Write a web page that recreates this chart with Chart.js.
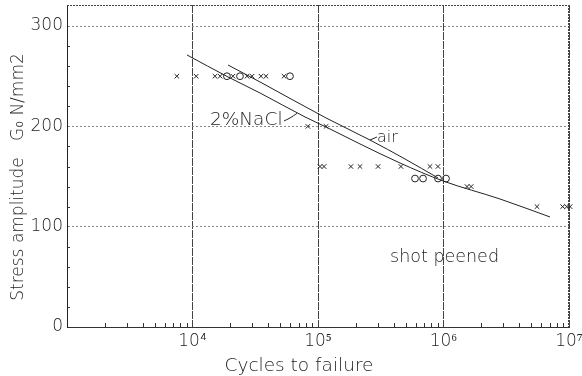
<!DOCTYPE html>
<html><head><meta charset="utf-8">
<script src="https://cdn.jsdelivr.net/npm/chart.js@4/dist/chart.umd.min.js"></script>
<style>html,body{margin:0;padding:0;background:#fff}#wrap{width:582px;height:376px}</style>
</head><body><div id="wrap"><canvas id="c" width="582" height="376"></canvas></div>
<script>
// ---- data ----
const xTickValues = [1e4, 1e5, 1e6, 1e7];
const xTickLabels = ['10⁴', '10⁵', '10⁶', '10⁷'];
const yTickValues = [0, 100, 200, 300];

const crossCycles = [7500, 10700, 15100, 16600, 21000, 27200, 29800, 35100, 38500, 53600,
                     83000, 116000,
                     103800, 111700, 183000, 216000, 301000, 458000, 780000, 903000,
                     1540000, 1660000,
                     5560000, 8900000, 9600000, 10200000];
const crossStress = [250, 250, 250, 250, 250, 250, 250, 250, 250, 250,
                     200, 200,
                     160, 160, 160, 160, 160, 160, 160, 160,
                     140, 140,
                     120, 120, 120, 120];

const circleCycles = [18800, 23900, 59800, 593000, 687000, 904000, 1047000];
const circleStress = [250, 250, 250, 148, 148, 148, 148];

const naclCycles = [9040, 19180, 34500, 78780, 115800, 216100, 450100, 990800, 2820000, 7060000];
const naclStress = [271.2, 249.3, 233.3, 209.4, 199.4, 182.5, 163.5, 145.6, 127.6, 109.7];

const airCycles = [19180, 34500, 115800, 259600, 493400, 904000];
const airStress = [261.2, 244.3, 208.4, 186.4, 167.5, 148.6];

const naclLeaderCycles = [53600, 59800, 68000];
const naclLeaderStress = [205.4, 208.4, 212.9];
const airLeaderCycles = [259600, 295000];
const airLeaderStress = [186.4, 189.4];

const labelTexts = ['2%NaCl', 'air', 'shot peened'];
const labelCycles = [13770, 295000, 375000];
const labelStress = [201.4, 184.7, 64.8];

const xTitle = 'Cycles to failure';
const yTitle = 'Stress amplitude   G₀ N/mm2';

// ---- build ----
const pts = (xs, ys) => xs.map((v, i) => ({x: v, y: ys[i]}));
const FONT = 'DejaVu Sans';
const INK = '#222';

const decor = {
  id: 'decor',
  beforeDatasetsDraw(chart) {
    const {ctx, chartArea: a, scales: {x, y}} = chart;
    ctx.save();
    ctx.strokeStyle = '#333';
    ctx.lineWidth = 1;
    ctx.setLineDash([]);
    for (let d = 3; d < 7; d++) {
      for (let m = 2; m <= 9; m++) {
        const px = Math.round(x.getPixelForValue(m * Math.pow(10, d))) + 0.5;
        ctx.beginPath(); ctx.moveTo(px, a.bottom); ctx.lineTo(px, a.bottom - 4); ctx.stroke();
      }
    }
    for (let v = 20; v < 320; v += 20) {
      if (v % 100 === 0) continue;
      const py = Math.round(y.getPixelForValue(v)) + 0.5;
      ctx.beginPath(); ctx.moveTo(a.left, py); ctx.lineTo(a.left + 3, py); ctx.stroke();
    }
    ctx.setLineDash([2, 1]);
    ctx.strokeStyle = '#444';
    ctx.beginPath();
    ctx.moveTo(a.left, a.top + 0.5); ctx.lineTo(a.right - 0.5, a.top + 0.5); ctx.lineTo(a.right - 0.5, a.bottom);
    ctx.stroke();
    ctx.restore();
  },
  afterDraw(chart) {
    const {ctx, chartArea: a, scales: {x, y}} = chart;
    ctx.save();
    ctx.fillStyle = INK;
    ctx.textBaseline = 'alphabetic';
    ctx.textAlign = 'left';
    const sizes = [18.5, 16, 17.5];
    labelTexts.forEach((t, i) => {
      ctx.font = `200 ${sizes[i]}px "${FONT}"`;
      ctx.fillText(t, x.getPixelForValue(labelCycles[i]), y.getPixelForValue(labelStress[i]));
    });
    ctx.font = `200 18.5px "${FONT}"`;
    ctx.textAlign = 'center';
    ctx.fillText(xTitle, (a.left + a.right) / 2 - 19, 371);
    ctx.translate(19, 177);
    ctx.rotate(-Math.PI / 2);
    ctx.textBaseline = 'middle';
    ctx.font = `200 17px "${FONT}"`;
    ctx.fillText(yTitle, 0, 0);
    ctx.restore();
  }
};

const lineDs = (xs, ys) => ({
  type: 'line', data: pts(xs, ys), borderColor: INK, borderWidth: 1,
  pointRadius: 0, fill: false, cubicInterpolationMode: 'monotone', order: 2
});

new Chart(document.getElementById('c'), {
  type: 'scatter',
  data: {
    datasets: [
      lineDs(naclCycles, naclStress),
      lineDs(airCycles, airStress),
      Object.assign(lineDs(naclLeaderCycles, naclLeaderStress), {cubicInterpolationMode: 'default', tension: 0.4}),
      Object.assign(lineDs(airLeaderCycles, airLeaderStress), {cubicInterpolationMode: 'default'}),
      {data: pts(crossCycles, crossStress), pointStyle: 'crossRot', pointRadius: 3.2,
       borderColor: INK, borderWidth: 1, backgroundColor: INK, clip: false, order: 1},
      {data: pts(circleCycles, circleStress), pointStyle: 'circle', pointRadius: 3.4,
       borderColor: INK, borderWidth: 1, backgroundColor: 'rgba(255,255,255,0)', clip: false, order: 1}
    ]
  },
  plugins: [decor],
  options: {
    responsive: false, animation: false, devicePixelRatio: 1,
    layout: {padding: {top: 5, right: 13, left: 0, bottom: 0}},
    plugins: {legend: {display: false}, tooltip: {enabled: false}},
    scales: {
      x: {
        type: 'logarithmic', min: 1000, max: 1e7,
        afterBuildTicks: s => { s.ticks = xTickValues.map(v => ({value: v})); },
        afterFit: s => { s.height = 49; s.paddingLeft = 0; s.paddingRight = 0; },
        ticks: {
          callback: v => { const i = xTickValues.indexOf(v); return i >= 0 ? xTickLabels[i] : ''; },
          font: {family: FONT, size: 17, weight: '200'}, color: INK, padding: 4,
          autoSkip: false, maxRotation: 0
        },
        grid: {color: '#444', lineWidth: 1, drawTicks: false},
        border: {display: true, color: '#333', width: 1, dash: [8, 1]},
        title: {display: false}
      },
      y: {
        type: 'linear', min: 0, max: 321,
        afterBuildTicks: s => { s.ticks = yTickValues.map(v => ({value: v})); },
        afterFit: s => { s.width = 67; s.paddingTop = 0; s.paddingBottom = 0; },
        ticks: {
          callback: v => String(v),
          font: {family: FONT, size: 17, weight: '200'}, color: INK, padding: 4
        },
        grid: {color: c => c.tick && c.tick.value === 0 ? 'rgba(0,0,0,0)' : '#888',
               lineWidth: 1, drawTicks: false},
        border: {display: true, color: '#222', width: 1, dash: [2, 2]},
        title: {display: false}
      }
    }
  }
});
</script>
</body></html>
